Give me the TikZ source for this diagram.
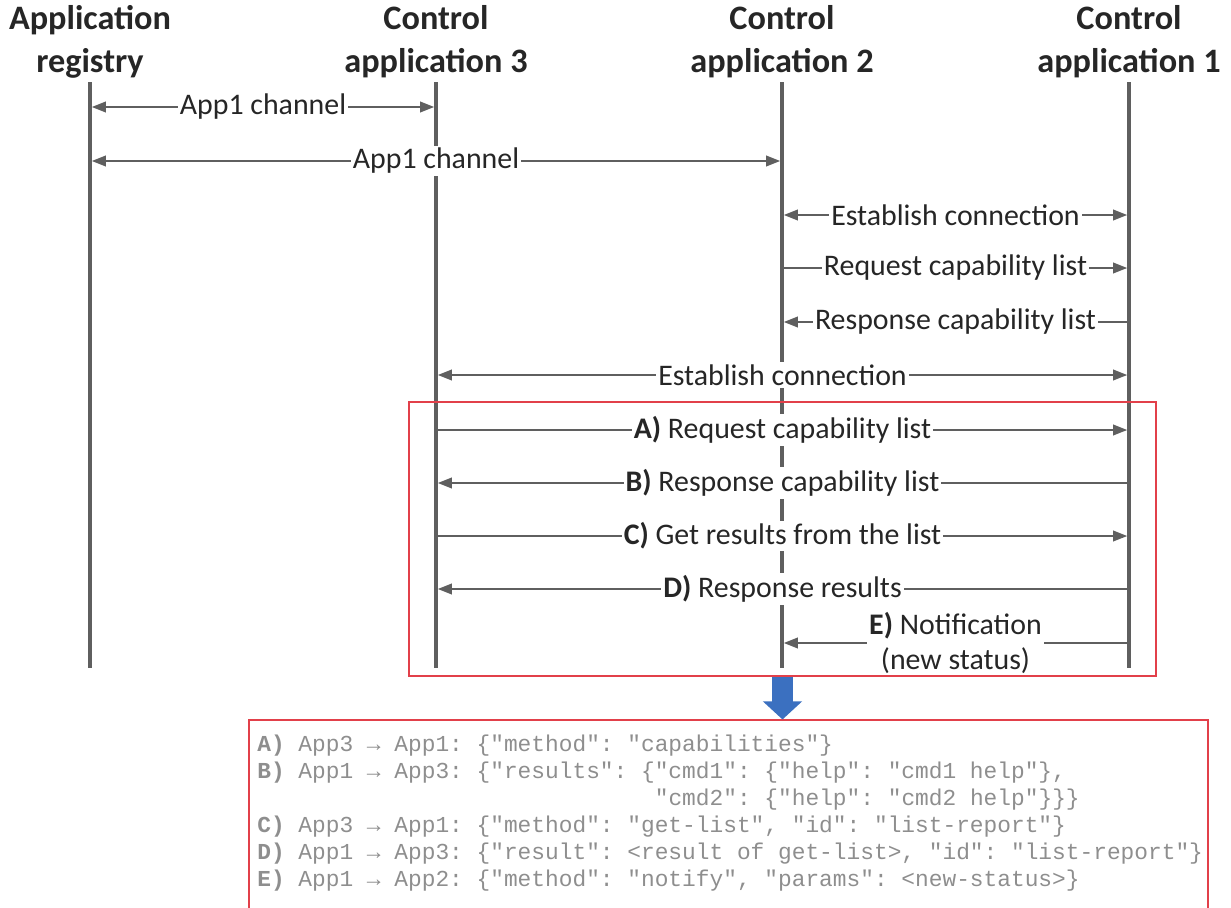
\documentclass[tikz,border=0pt]{standalone}
\usepackage{fontspec}
\setmainfont{Carlito}
\setmonofont{Liberation Mono}
\usetikzlibrary{positioning, arrows.meta, fit}
\definecolor{lifegray}{HTML}{5F5F5F}
\definecolor{framered}{HTML}{E2404A}
\definecolor{codegray}{HTML}{8E8E8E}
\definecolor{arrowblue}{HTML}{3B70C0}

\begin{document}
\begin{tikzpicture}[x=0.02cm, y=-0.02cm,
  head/.style={font=\fontsize{19.5}{24.5}\selectfont\bfseries, align=center, text=black!85, inner sep=0pt},
  life/.style={line width=2.3pt, lifegray},
  msg/.style={line width=1.1pt, lifegray, shorten >=1pt, shorten <=1pt, -{Triangle[length=8pt, width=6pt]}},
  both/.style={msg, {Triangle[length=8pt, width=6pt]}-{Triangle[length=8pt, width=6pt]}},
  lbl/.style={midway, fill=white, inner sep=1.2pt, text=black!85, font=\fontsize{17}{19.8}\selectfont},
  frame/.style={draw=framered, line width=0.6pt, inner sep=0pt},
  code/.style={anchor=north west, align=left, inner sep=0pt, text=codegray, font=\ttfamily\fontsize{13}{15.3}\selectfont},
  bluearrow/.style={arrowblue, line width=0.42cm, -{Triangle[length=0.36cm, width=0.76cm]}}
]
  \useasboundingbox (0,0) rectangle (1231,907);

  \node[head] (reg) at (90,42) {Application\\registry};
  \node[head] (app3) at (436,42) {Control\\application 3};
  \node[head] (app2) at (782,42) {Control\\application 2};
  \node[head] (app1) at (1129,42) {Control\\application 1};

  \foreach \n/\x in {reg/90, app3/436, app2/782, app1/1129} {
    \draw[life] (\x,82) -- (\x,668);
    \foreach \r/\y in {1/107, 2/161, 3/215, 4/268, 5/322, 6/375, 7/430, 8/483, 9/536, 10/589, 11/643}
      \coordinate (\n-\r) at (\x,\y);
  }

  \draw[both] (reg-1) -- (app3-1) node[lbl] {App1 channel};
  \draw[both] (reg-2) -- (app2-2) node[lbl] {App1 channel};
  \draw[both] (app2-3) -- (app1-3) node[lbl] {Establish connection};
  \draw[msg] (app2-4) -- (app1-4) node[lbl] {Request capability list};
  \draw[msg] (app1-5) -- (app2-5) node[lbl] {Response capability list};
  \draw[both] (app3-6) -- (app1-6) node[lbl] {Establish connection};
  \draw[msg] (app3-7) -- (app1-7) node[lbl] {\textbf{A)} Request capability list};
  \draw[msg] (app1-8) -- (app3-8) node[lbl] {\textbf{B)} Response capability list};
  \draw[msg] (app3-9) -- (app1-9) node[lbl] {\textbf{C)} Get results from the list};
  \draw[msg] (app1-10) -- (app3-10) node[lbl] {\textbf{D)} Response results};
  \draw[msg] (app1-11) -- (app2-11) node[lbl, align=center] {\textbf{E)} Notification\\(new status)};

  \coordinate (f1) at (409,402);
  \coordinate (f2) at (1156,676);
  \node[frame, fit=(f1)(f2)] (frame) {};

  \coordinate (c1) at (249,720);
  \coordinate (c2) at (1208,915);
  \node[frame, fit=(c1)(c2)] (codebox) {};
  \node[code] (listing) at (257,735) {%
    \textbf{A)} App3 → App1: \{"method": "capabilities"\}\\
    \textbf{B)} App1 → App3: \{"results": \{"cmd1": \{"help": "cmd1 help"\},\\
    \phantom{B) App1 → App3: \{"results": \{}"cmd2": \{"help": "cmd2 help"\}\}\}\\
    \textbf{C)} App3 → App1: \{"method": "get-list", "id": "list-report"\}\\
    \textbf{D)} App1 → App3: \{"result": <result of get-list>, "id": "list-report"\}\\
    \textbf{E)} App1 → App2: \{"method": "notify", "params": <new-status>\}};

  \draw[bluearrow] (frame.south) -- (frame.south |- codebox.north);
\end{tikzpicture}
\end{document}
